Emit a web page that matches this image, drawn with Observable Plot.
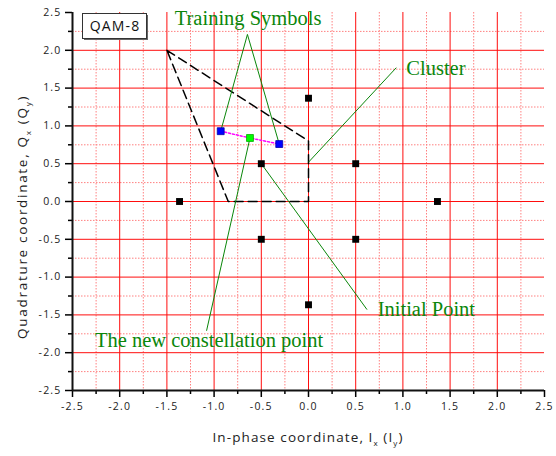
<!DOCTYPE html>
<html>
<head>
<meta charset="utf-8">
<script src="https://cdn.jsdelivr.net/npm/d3@7"></script>
<script src="https://cdn.jsdelivr.net/npm/@observablehq/plot@0.6"></script>
<style>
  body { margin: 0; background: #fff; }
  #chart svg [aria-label$="tick label"] { letter-spacing: 1.2px; }
</style>
</head>
<body>
<div id="chart"></div>
<script>
// 8-QAM constellation (in-phase I, quadrature Q)
const symbolI = [0, -1.366, 1.366, 0, -0.5, 0.5, -0.5, 0.5];
const symbolQ = [1.366, 0, 0, -1.366, 0.5, 0.5, -0.5, -0.5];

// training symbols and the new constellation point derived from them
const trainingI = [-0.93, -0.31];
const trainingQ = [0.93, 0.76];
const newPointI = [-0.62];
const newPointQ = [0.84];

// cluster boundary (closed polygon)
const clusterI = [-1.5, 0, 0, -0.85, -1.5];
const clusterQ = [2.0, 0.8, 0, 0, 2.0];

// annotation labels and their leader lines
const labelText = ["Training Symbols", "Cluster", "Initial Point", "The new constellation point"];
const labelI = [-0.64, 1.036, 0.733, -2.262];
const labelQ = [2.428, 1.758, -1.425, -1.835];
const labelAnchor = ["middle", "start", "start", "start"];

const leaderFromI = [-0.647, -0.647, 0.93, 0.62, -1.08];
const leaderFromQ = [2.21, 2.21, 1.77, -1.43, -1.71];
const leaderToI = [-0.93, -0.31, 0, -0.5, -0.62];
const leaderToQ = [0.93, 0.76, 0.52, 0.5, 0.84];

// axis ticks and grid
const majorTicks = [-2.5, -2, -1.5, -1, -0.5, 0, 0.5, 1, 1.5, 2, 2.5];
const minorTicks = [-2.25, -1.75, -1.25, -0.75, -0.25, 0.25, 0.75, 1.25, 1.75, 2.25];
const gridLines = [-2, -1.5, -1, -0.5, 0, 0.5, 1, 1.5, 2];

const symbols = symbolI.map((I, i) => ({I, Q: symbolQ[i]}));
const training = trainingI.map((I, i) => ({I, Q: trainingQ[i]}));
const newPoint = newPointI.map((I, i) => ({I, Q: newPointQ[i]}));
const cluster = clusterI.map((I, i) => ({I, Q: clusterQ[i]}));
const pilotPath = [training[0], newPoint[0], training[1]];
const labels = labelText.map((text, i) => ({text, I: labelI[i], Q: labelQ[i], anchor: labelAnchor[i]}));
const leaders = leaderFromI.map((x1, i) => ({x1, y1: leaderFromQ[i], x2: leaderToI[i], y2: leaderToQ[i]}));

const green = "#0a860a";
const tickFont = {fontSize: 10.5, fill: "#222"};
const labelFont = {fontFamily: "'Liberation Serif', 'Times New Roman', serif", fontSize: 20.5, fill: green};

const plot = Plot.plot({
  width: 556,
  height: 456,
  marginLeft: 72,
  marginRight: 12,
  marginTop: 12,
  marginBottom: 66,
  style: {fontFamily: "'Open Sans', sans-serif", background: "#fff", overflow: "visible"},
  x: {domain: [-2.5, 2.5]},
  y: {domain: [-2.5, 2.5]},
  marks: [
    // minor grid (dotted)
    Plot.ruleX(minorTicks, {stroke: "#ff8080", strokeWidth: 1, strokeDasharray: "1.5,1.5"}),
    Plot.ruleY(minorTicks, {stroke: "#ff8080", strokeWidth: 1, strokeDasharray: "1.5,1.5"}),
    // major grid
    Plot.ruleX(gridLines, {stroke: "#ff0d0d", strokeWidth: 1}),
    Plot.ruleY(gridLines, {stroke: "#ff0d0d", strokeWidth: 1}),
    // axes
    Plot.axisX({ticks: majorTicks, tickSize: 7, tickPadding: 5, tickFormat: d => d.toFixed(1), strokeWidth: 1.5, label: null, ...tickFont}),
    Plot.axisX({ticks: minorTicks, tickSize: 4, tickFormat: () => "", strokeWidth: 1.5, label: null}),
    Plot.axisY({ticks: majorTicks, tickSize: 7, tickPadding: 4, tickFormat: d => d.toFixed(1), strokeWidth: 1.5, label: null, ...tickFont}),
    Plot.axisY({ticks: minorTicks, tickSize: 4, tickFormat: () => "", strokeWidth: 1.5, label: null}),
    Plot.ruleX([-2.5], {stroke: "#111", strokeWidth: 2}),
    Plot.ruleY([-2.5], {stroke: "#111", strokeWidth: 2}),
    // cluster boundary
    Plot.line(cluster, {x: "I", y: "Q", stroke: "#000", strokeWidth: 1.5, strokeDasharray: "9,5"}),
    // annotation leaders
    Plot.link(leaders, {x1: "x1", y1: "y1", x2: "x2", y2: "y2", stroke: green, strokeWidth: 1}),
    // training symbols -> new point
    Plot.line(pilotPath, {x: "I", y: "Q", stroke: "#ff00ff", strokeWidth: 1.5, strokeDasharray: "2,2"}),
    // points
    Plot.dot(symbols, {x: "I", y: "Q", symbol: "square", r: 3.9, fill: "#000", stroke: "none"}),
    Plot.dot(training, {x: "I", y: "Q", symbol: "square", r: 3.9, fill: "#0000ff", stroke: "#0000aa", strokeWidth: 0.8}),
    Plot.dot(newPoint, {x: "I", y: "Q", symbol: "square", r: 3.9, fill: "#00ff00", stroke: "#00b000", strokeWidth: 0.8}),
    // annotation text
    Plot.text(labels.filter(d => d.anchor === "middle"), {x: "I", y: "Q", text: "text", textAnchor: "middle", ...labelFont}),
    Plot.text(labels.filter(d => d.anchor === "start"), {x: "I", y: "Q", text: "text", textAnchor: "start", ...labelFont})
  ]
});

document.getElementById("chart").appendChild(plot);

// axis titles with subscripts, and the modulation tag
const svg = d3.select(plot);
const xs = plot.scale("x");
const ys = plot.scale("y");

const xTitle = svg.append("text")
  .attr("x", xs.apply(0))
  .attr("y", 442)
  .attr("text-anchor", "middle")
  .attr("font-size", 13.5)
  .attr("letter-spacing", "1.1px")
  .attr("fill", "#222");
xTitle.append("tspan").text("In-phase coordinate, I");
xTitle.append("tspan").attr("font-size", 8).attr("dy", 4).text("x");
xTitle.append("tspan").attr("dy", -4).text(" (I");
xTitle.append("tspan").attr("font-size", 8).attr("dy", 4).text("y");
xTitle.append("tspan").attr("dy", -4).text(")");

const yTitle = svg.append("text")
  .attr("transform", `translate(26.5,${ys.apply(-0.21)}) rotate(-90)`)
  .attr("text-anchor", "middle")
  .attr("font-size", 13.5)
  .attr("letter-spacing", "1.7px")
  .attr("fill", "#222");
yTitle.append("tspan").text("Quadrature coordinate, Q");
yTitle.append("tspan").attr("font-size", 8).attr("dy", 4).text("x");
yTitle.append("tspan").attr("dy", -4).text(" (Q");
yTitle.append("tspan").attr("font-size", 8).attr("dy", 4).text("y");
yTitle.append("tspan").attr("dy", -4).text(")");

const tagX = 82.5, tagY = 13.5, tagW = 64, tagH = 25;
svg.append("rect").attr("x", tagX + 1.5).attr("y", tagY + 1.5).attr("width", tagW).attr("height", tagH).attr("fill", "#666");
svg.append("rect").attr("x", tagX).attr("y", tagY).attr("width", tagW).attr("height", tagH).attr("fill", "#fff").attr("stroke", "#333").attr("stroke-width", 1);
svg.append("text")
  .attr("x", tagX + tagW / 2 + 0.6)
  .attr("y", tagY + tagH / 2)
  .attr("dy", "0.35em")
  .attr("text-anchor", "middle")
  .attr("font-size", 14)
  .attr("letter-spacing", "1.2px")
  .attr("fill", "#111")
  .text("QAM-8");
</script>
</body>
</html>
